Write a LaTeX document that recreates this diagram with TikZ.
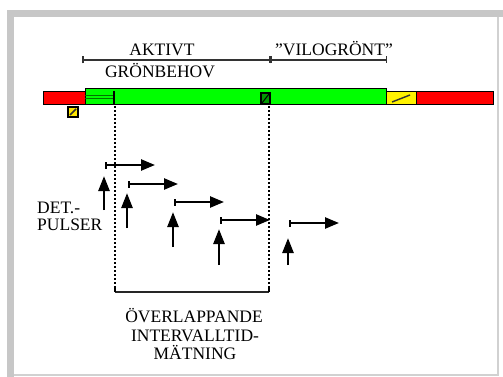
\documentclass[tikz,border=0pt]{standalone}
\usepackage{fontspec}
\setmainfont{Liberation Serif}
\usetikzlibrary{arrows.meta}
\begin{document}
\begin{tikzpicture}[x=1pt,y=-1pt,
  lbl/.style={font=\fontsize{17.5}{19}\selectfont, text=black, inner sep=0pt, align=center},
  dimline/.style={line width=1.6pt, black!80, {Bar[width=7pt,line width=1.5pt]}-{Bar[width=7pt,line width=1.5pt]}},
  upulse/.style={line width=2.6pt, -{Triangle[length=15pt,width=11pt]}},
  hpulse/.style={line width=2.4pt, {Bar[width=7pt,line width=1.8pt]}-{Triangle[length=14pt,width=11pt]}},
  sep/.style={line width=2pt, dash pattern=on 1.6pt off 2.4pt},
  cell/.style={draw=black, line width=1pt}]
\useasboundingbox (0,0) rectangle (503,377);
\fill[white] (0,0) rectangle (503,377);
% frame
\fill[black!22] (7,10) rectangle (503,17);
\fill[black!22] (7,10) rectangle (14,377);
\draw[black!18, line width=1.5pt] (498,17) -- (498,375) -- (14,375);
% top dimension lines
\coordinate (t1) at (82,60);
\coordinate (t2) at (270,60);
\coordinate (t3) at (387,60);
\draw[dimline] (t1) -- (t2);
\draw[dimline] (t2) -- (t3);
\node[lbl, anchor=base] (aktivt) at (162,56) {AKTIVT};
\node[lbl, anchor=base] (gronbehov) at (160,78) {GRÖNBEHOV};
\node[lbl, anchor=base] (vilo) at (334,56) {”VILOGRÖNT”};
% signal bar
\draw[cell, fill=red] (43,92) rectangle (85,105);
\draw[cell, fill=green] (85,89) rectangle (386,105);
\draw[green!45!black, line width=0.9pt] (85,95) -- (113,95);
\draw[green!45!black, line width=0.9pt] (85,98.5) -- (113,98.5);
\draw[line width=1.5pt] (114,91) -- (114,105);
\draw[cell, fill=yellow] (386,92) rectangle (416,105);
\draw[line width=1.4pt, black!80] (392,102) -- (410,95);
\draw[cell, fill=red] (416,92) rectangle (493,105);
% detector box in bar
\draw[line width=1.5pt, fill=green!60!black] (261,93) rectangle (270,104);
\draw[line width=1pt] (262,103) -- (269,94);
% small yellow box below bar
\draw[line width=1.5pt, fill=yellow!90!orange] (68,107) rectangle (78,117);
\draw[line width=1.6pt, black!80] (70,115) -- (76,109);
% dotted separators and bottom bracket
\coordinate (s1) at (115,106);
\coordinate (s2) at (269,106);
\coordinate (b1) at (115,292);
\coordinate (b2) at (269,292);
\draw[sep] (s1) -- (b1);
\draw[sep] (s2) -- (b2);
\draw[line width=1.8pt, black!85] (b1) -- (b2);
\draw[line width=1.4pt] (b1) -- ++(0,-5);
\draw[line width=1.4pt] (b2) -- ++(0,-5);
\node[lbl, anchor=base] (overlapp) at (194,322) {ÖVERLAPPANDE};
\node[lbl, anchor=base] (interv) at (195,341) {INTERVALLTID-};
\node[lbl, anchor=base] (matning) at (195,359) {MÄTNING};
% detector pulses
\node[lbl, anchor=base west, align=left] (det) at (37,213) {DET.-};
\node[lbl, anchor=base west, align=left] (puls) at (37,230) {PULSER};
\foreach \i/\x/\yb/\yt/\yh in {1/104/210/176/165, 2/127/228/193/184, 3/173/247/212/202, 4/219/265/229/220, 5/288/265/238/223}{
  \coordinate (pb\i) at (\x,\yb);
  \coordinate (pt\i) at (\x,\yt);
  \coordinate (hs\i) at (\x+1,\yh);
  \coordinate (he\i) at (\x+51,\yh);
  \draw[upulse] (pb\i) -- (pt\i);
  \draw[hpulse] (hs\i) -- (he\i);
}
\end{tikzpicture}
\end{document}
